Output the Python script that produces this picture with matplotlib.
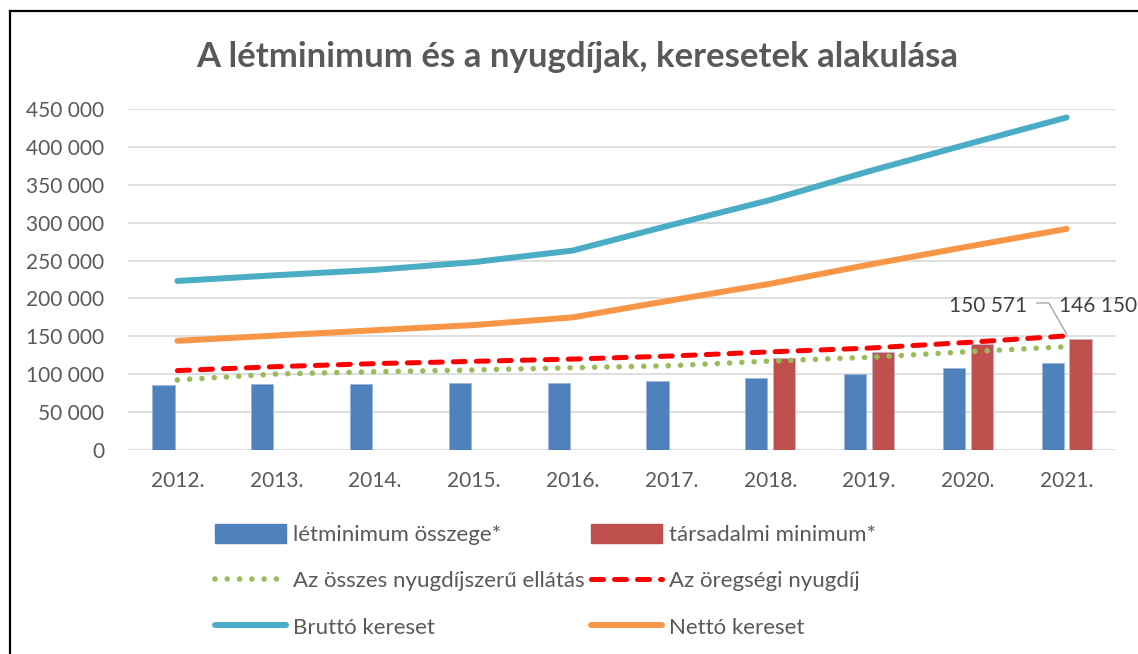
import numpy as np
import matplotlib
matplotlib.use("Agg")
import matplotlib.pyplot as plt
from matplotlib.lines import Line2D

plt.rcParams['font.family'] = ['Lato', 'DejaVu Sans']

years = ['2012.', '2013.', '2014.', '2015.', '2016.', '2017.', '2018.', '2019.', '2020.', '2021.']
letminimum = [85960, 87510, 87351, 88367, 88960, 90623, 94812, 100902, 108787, 114196]
tarsadalmi = [np.nan, np.nan, np.nan, np.nan, np.nan, np.nan, 120800, 129000, 139500, 146150]
osszes_nyugdij = [92400, 100300, 103300, 105600, 108600, 111300, 117400, 122300, 129700, 136300]
oregsegi = [104800, 110000, 114000, 117000, 120000, 124000, 129500, 134500, 142000, 150571]
brutto = [223060, 230664, 237695, 247924, 263171, 297017, 329913, 367833, 403616, 438800]
netto = [144085, 151118, 158069, 164873, 175009, 197516, 219392, 244609, 268400, 291800]

W, H = 1138, 654
fig = plt.figure(figsize=(W / 100, H / 100), dpi=100)
ax = fig.add_axes([128 / W, (H - 450) / H, (1116 - 128) / W, (450 - 109) / H])

x = np.arange(len(years))
bw = 0.225
off = 0.14
ax.bar(x - off, letminimum, width=bw, color='#4F81BD', edgecolor='#9db5d8', linewidth=0.6, zorder=2)
ax.bar(x + off, tarsadalmi, width=bw, color='#C0504D', edgecolor='#c9b3cc', linewidth=0.6, zorder=2)

dots = (0, (0.01, 2.2))
dashes = (0, (2.4, 2.2))
ax.plot(x, brutto, color='#4BACC6', lw=4.3, solid_capstyle='round', zorder=3)
ax.plot(x, netto, color='#F79646', lw=4.3, solid_capstyle='round', zorder=3)
ax.plot(x, osszes_nyugdij, color='#9BBB59', lw=4.0, linestyle=dots,
        dash_capstyle='round', zorder=3)
ax.plot(x, oregsegi, color='#FF0000', lw=3.6, linestyle=dashes,
        dash_capstyle='round', zorder=3)

ax.set_xlim(-0.5, len(years) - 0.5)
ax.set_ylim(0, 450000)
ax.set_yticks(np.arange(0, 450001, 50000))
ax.set_yticklabels([f"{v:,}".replace(',', ' ') for v in range(0, 450001, 50000)])
ax.set_xticks(x)
ax.set_xticklabels(years)
ax.tick_params(axis='both', length=0, labelsize=15, colors='#595959')
ax.tick_params(axis='y', pad=17)
ax.tick_params(axis='x', pad=15)
ax.grid(axis='y', color='#d9d9d9', lw=1.2, zorder=0)
ax.set_axisbelow(True)
for s in ax.spines.values():
    s.set_visible(False)

# data labels for 2021
lab_y = 190000
ax.text(x[-1] - 0.4, lab_y, '150 571', ha='right', va='center', fontsize=15, color='#404040')
ax.text(x[-1] - 0.08, lab_y, '146 150', ha='left', va='center', fontsize=15, color='#404040')
ax.plot([x[-1] - 0.3, x[-1] - 0.18, x[-1]], [lab_y + 4000, lab_y + 4000, oregsegi[-1] + 2500],
        color='#a6a6a6', lw=1, zorder=4)

fig.suptitle('A létminimum és a nyugdíjak, keresetek alakulása', x=0.507, y=0.937,
             fontsize=25, fontweight='bold', color='#595959')

handles = [
    plt.Rectangle((0, 0), 1, 1, color='#4F81BD'),
    Line2D([], [], color='#9BBB59', lw=4.0, linestyle=dots, dash_capstyle='round'),
    Line2D([], [], color='#4BACC6', lw=4.3, solid_capstyle='round'),
    plt.Rectangle((0, 0), 1, 1, color='#C0504D'),
    Line2D([], [], color='#FF0000', lw=3.6, linestyle=dashes, dash_capstyle='round'),
    Line2D([], [], color='#F79646', lw=4.3, solid_capstyle='round'),
]
labels = ['létminimum összege*', 'Az összes nyugdíjszerű ellátás', 'Bruttó kereset',
          'társadalmi minimum*', 'Az öregségi nyugdíj', 'Nettó kereset']
leg = fig.legend(handles, labels, ncol=2, loc='upper left', bbox_to_anchor=(204 / W, 1 - 513 / H),
                 frameon=False, fontsize=16, handlelength=3.2, handleheight=0.95,
                 handletextpad=0.3, columnspacing=0.3, labelspacing=1.12, borderpad=0)
for t in leg.get_texts():
    t.set_color('#595959')

# chart frame (top and left edges visible)
fig.add_artist(Line2D([10 / W, 1], [1 - 11 / H, 1 - 11 / H], color='black', lw=1.6))
fig.add_artist(Line2D([10 / W, 10 / W], [0, 1 - 11 / H], color='black', lw=1.6))

fig.savefig('out.png', dpi=100)
